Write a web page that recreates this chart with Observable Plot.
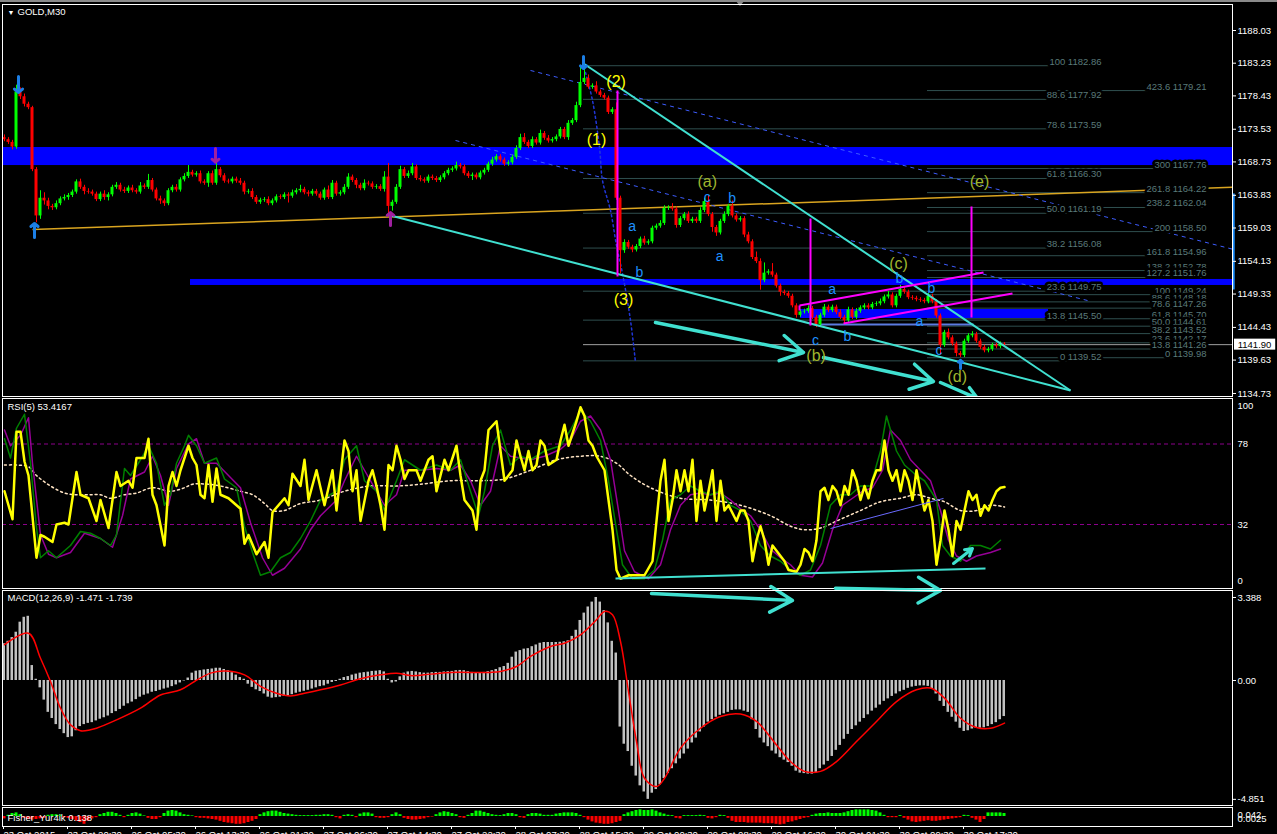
<!DOCTYPE html>
<html>
<head>
<meta charset="utf-8">
<script src="https://cdn.jsdelivr.net/npm/d3@7"></script>
<script src="https://cdn.jsdelivr.net/npm/@observablehq/plot@0.6"></script>
<style>
  html, body { margin: 0; padding: 0; background: #000; overflow: hidden; }
  #chart { position: relative; width: 1277px; height: 834px; background: #000; }
  #chart svg { position: absolute; left: 0; top: 0; }
  #topbar { position: absolute; left: 0; top: 0; width: 1277px; height: 2px; background: #8a8a8a; }
  #shift { position: absolute; left: 735px; top: 0; width: 0; height: 0;
           border-left: 5px solid transparent; border-right: 5px solid transparent; border-top: 6px solid #8a8a8a; }
</style>
</head>
<body>
<div id="chart"><div id="topbar"></div><div id="shift"></div></div>
<script>
// ---------------- GOLD M30 price bars (bar index 0..250) ----------------
const firstOpen = 1172.3;
const closes = [
  1172.0,1171.6,1170.9,1179.0,1178.3,1177.2,1176.7,1167.6,1160.8,1163.4,
  1163.0,1162.2,1162.0,1162.6,1163.3,1163.5,1163.8,1164.3,1165.8,1165.0,
  1164.4,1164.3,1164.0,1163.2,1164.0,1163.5,1163.9,1165.0,1165.3,1164.6,
  1164.4,1164.9,1164.5,1164.3,1165.2,1165.0,1166.0,1164.6,1163.3,1163.0,
  1162.6,1164.5,1165.0,1164.6,1166.1,1166.6,1167.2,1166.8,1167.0,1165.8,
  1165.6,1167.0,1165.6,1167.6,1166.7,1165.9,1165.8,1166.2,1165.9,1165.6,
  1164.3,1164.4,1163.5,1162.8,1163.1,1163.2,1162.6,1163.0,1163.6,1163.5,
  1163.9,1163.7,1164.2,1164.5,1164.7,1164.2,1164.0,1164.4,1164.0,1163.4,
  1164.6,1163.5,1165.6,1164.0,1164.2,1165.0,1166.5,1166.0,1165.3,1164.8,
  1165.6,1165.5,1165.0,1165.1,1164.7,1166.5,1162.2,1162.8,1165.0,1167.6,
  1166.6,1167.0,1168.0,1166.3,1166.1,1165.9,1166.5,1166.3,1166.0,1166.4,
  1167.0,1167.5,1167.7,1168.2,1168.0,1167.0,1166.6,1166.8,1166.4,1167.1,
  1167.5,1168.4,1169.0,1169.5,1169.0,1168.4,1168.6,1169.4,1170.7,1172.3,
  1171.6,1171.0,1172.0,1171.5,1172.9,1172.2,1171.8,1172.0,1172.4,1173.5,
  1172.3,1174.4,1174.8,1177.0,1180.4,1181.0,1179.7,1179.9,1179.0,1178.5,
  1178.1,1176.0,1176.4,1163.4,1155.7,1156.9,1156.2,1155.8,1156.3,1157.4,
  1156.8,1157.0,1159.0,1159.3,1159.7,1161.9,1162.0,1161.8,1159.4,1160.4,
  1161.0,1160.0,1160.3,1160.0,1161.6,1162.9,1161.0,1159.1,1158.3,1160.0,
  1161.0,1162.2,1160.8,1160.2,1160.4,1158.0,1157.0,1154.7,1154.1,1151.3,
  1152.4,1152.6,1152.1,1150.5,1149.6,1149.4,1149.0,1147.6,1146.2,1146.7,
  1146.8,1147.2,1145.9,1144.8,1146.2,1147.4,1146.9,1147.4,1146.6,1145.9,
  1145.4,1147.0,1145.9,1146.8,1147.3,1147.6,1147.3,1147.8,1147.9,1148.2,
  1148.9,1149.2,1147.6,1149.0,1150.0,1149.6,1148.8,1148.7,1148.5,1148.4,
  1148.2,1149.0,1148.2,1146.1,1141.8,1143.7,1142.9,1142.0,1140.6,1140.3,
  1142.4,1143.2,1143.4,1142.4,1141.5,1141.0,1141.2,1141.8,1141.6,1142.0,
  1141.9
];
// shadow lengths above / below each body, in dollars
const wickUp = [
  0.4,0.3,0.3,1.0,0.6,0.4,0.3,0.2,0.3,1.1, 0.8,0.4,0.3,0.4,0.3,0.4,0.3,0.3,0.3,0.4,
  0.3,0.4,0.3,0.3,0.3,0.5,0.3,0.3,0.4,0.3, 0.4,0.3,0.4,0.3,0.5,0.3,0.9,0.3,0.3,0.4,
  0.3,0.3,0.3,0.4,0.3,0.4,1.0,0.3,0.3,0.4, 0.3,0.3,0.4,0.9,0.3,0.3,0.3,0.3,0.3,0.4,
  0.3,0.3,0.4,0.3,0.3,0.3,0.4,0.3,0.3,0.3, 0.3,0.3,0.4,0.3,0.6,0.3,0.3,0.3,0.3,0.3,
  0.3,0.6,0.4,0.3,0.3,0.4,0.5,0.3,0.3,0.3, 0.5,0.3,0.3,0.3,0.3,0.8,2.0,0.3,0.4,0.5,
  0.3,0.4,0.5,0.3,0.4,0.3,0.3,0.3,0.3,0.3, 0.3,0.3,0.3,0.5,0.3,0.3,0.3,0.3,0.3,0.3,
  0.3,0.3,0.4,0.3,0.3,0.3,0.3,0.3,0.4,0.5, 0.6,0.3,0.4,0.3,0.5,0.3,0.4,0.3,0.3,0.3,
  0.3,0.4,0.3,0.5,2.2,1.9,0.5,0.3,0.6,0.3, 0.3,0.3,0.3,1.0,0.3,0.4,0.3,0.3,0.3,0.3,
  0.4,0.3,0.3,0.3,0.4,0.4,0.3,0.6,0.3,0.3, 0.3,0.4,0.3,0.3,0.4,0.5,0.8,0.3,0.3,0.3,
  0.4,0.3,0.8,0.3,0.3,0.3,0.4,0.3,0.8,0.4, 1.5,0.3,1.2,0.3,0.3,0.3,0.3,0.3,0.3,0.3,
  0.3,0.4,0.3,0.3,0.3,0.4,0.3,0.3,0.3,0.4, 0.3,0.4,0.3,0.4,0.3,0.3,0.3,0.3,0.3,0.4,
  0.3,0.5,0.3,0.3,0.6,0.3,0.3,0.3,0.3,0.3, 0.3,0.4,0.3,0.3,0.3,0.3,0.5,0.3,0.3,0.3,
  0.3,0.3,0.4,0.3,0.3,0.3,0.3,0.3,0.3,0.3, 0.2
];
const wickDown = [
  0.3,0.3,0.4,0.3,0.4,0.4,0.3,0.3,1.0,0.5, 0.6,0.5,0.4,0.3,0.3,0.3,0.4,0.3,0.3,0.3,
  0.5,0.3,0.3,0.3,0.3,0.4,0.5,0.3,0.3,0.3, 0.3,0.3,0.3,0.3,0.3,0.3,0.3,0.3,0.3,0.5,
  0.4,0.3,0.3,0.3,0.3,0.3,0.3,0.3,0.3,0.3, 0.3,0.6,0.3,0.3,0.3,0.3,0.3,0.3,0.3,0.3,
  0.4,0.3,0.3,0.3,0.3,0.3,0.3,0.3,0.3,0.3, 0.3,1.0,0.3,0.3,0.3,0.3,0.4,0.3,0.3,0.3,
  0.3,0.3,0.3,0.3,0.3,0.3,0.3,0.3,0.5,0.3, 0.3,0.3,0.3,0.3,0.3,0.4,1.3,0.7,0.3,0.3,
  0.3,0.3,0.3,0.3,0.3,0.3,0.3,0.3,0.3,0.3, 0.3,0.3,0.3,0.3,0.3,0.3,0.3,0.6,0.3,0.3,
  0.3,0.3,0.3,0.3,0.3,0.3,0.3,0.3,0.3,0.3, 0.3,0.3,0.3,0.3,0.3,0.3,0.3,0.3,0.3,0.3,
  0.3,0.4,0.3,0.3,0.3,0.3,0.3,0.3,0.3,0.3, 0.3,0.3,0.3,0.3,3.4,0.4,0.3,0.4,0.3,0.3,
  0.3,0.3,0.3,0.3,0.3,0.3,0.3,0.3,0.4,0.3, 0.3,0.3,0.3,0.3,0.3,0.3,0.3,0.7,0.5,0.3,
  0.3,0.3,0.3,0.3,0.3,0.4,0.3,0.3,0.3,1.4, 0.3,0.3,0.3,0.3,0.6,0.3,0.3,0.3,0.4,0.3,
  0.3,0.3,0.3,0.4,0.3,0.3,0.3,0.3,0.3,0.3, 0.4,0.3,0.3,0.3,0.3,0.3,0.3,0.3,0.3,0.3,
  0.3,0.3,0.3,0.3,0.3,0.3,0.3,0.3,0.3,0.3, 0.3,0.3,0.3,0.3,1.5,0.3,0.3,0.3,0.5,0.3,
  0.3,0.3,0.3,0.3,0.3,0.3,0.3,0.3,0.3,0.3, 0.2
];
const bidPrice = 1141.90;
const priceTicks = [1188.03,1183.23,1178.43,1173.53,1168.73,1163.83,1159.03,1154.13,1149.33,1144.43,1139.63,1134.73];

// ---------------- chart objects on the price window (bar index, price) ----------------
const zoneFrom = [-1, 46.5, 199];
const zoneTo   = [307, 307, 261];
const zoneHigh = [1170.85, 1151.47, 1147.06];
const zoneLow  = [1168.20, 1150.59, 1145.74];

const fibAFrom = 144.75, fibATo = 274.25;
const fibALevel = ["100","88.6","78.6","61.8","50.0","38.2","23.6","13.8","0"];
const fibAPrice = [1182.86,1177.92,1173.59,1166.30,1161.19,1156.08,1149.75,1145.50,1139.52];
const fibBFrom = 230.75, fibBTo = 300.5;
const fibBLevel = ["423.6","300","261.8","238.2","200","161.8","138.2","127.2","100","88.6","78.6","61.8","50.0","38.2","23.6","13.8","0"];
const fibBPrice = [1179.21,1167.76,1164.22,1162.04,1158.50,1154.96,1152.78,1151.76,1149.24,1148.18,1147.26,1145.70,1144.61,1143.52,1142.17,1141.26,1139.98];
const bidLineFrom = 144.75, axisEdgeBar = 307;

// segments as [bar1, price1, bar2, price2]
const orangeTrend = [[7, 1158.8, 307, 1165.0]];
const wedge = [[96.5, 1160.86, 266.5, 1135.17], [144.75, 1183.18, 266.5, 1135.17]];
const divergenceArrows = [[162.75, 1145.15, 199.75, 1140.75], [204.75, 1140.01, 232.25, 1136.49], [234, 1136.34, 243.25, 1133.99]];
const channelLines = [[198.75, 1147.65, 244.75, 1152.49], [209.75, 1145.0, 252, 1149.4], [198.75, 1147.65, 198.75, 1146.9]];
const targetLines = [[153.25, 1179.22, 153.25, 1151.91], [201.5, 1160.42, 201.5, 1144.71], [241.75, 1162.19, 241.75, 1145.89]];
const dashedTrends = [[131.5, 1182.16, 307, 1155.92], [112.75, 1171.88, 270.75, 1148.38]];
const baseLine = [[204, 1144.86, 242.25, 1144.86]];
const axisMarker = [[307.3, 1164.1, 307.3, 1150.0]];
const waveCurve = [[145.25,1181.86],[147,1177.75],[148.75,1170.85],[149.5,1166.0],[151.5,1161.6],[153,1156.46],[154.5,1152.35],[156.5,1145.45],[157.75,1139.28]];
const blueSignals = [[3.5, 1181.28, 3.5, 1178.93], [7.5, 1157.63, 7.5, 1159.69], [144.75, 1184.21, 144.75, 1182.45], [239, 1138.4, 239, 1139.6]];
const purpleSignals = [[52.75, 1170.7, 52.75, 1168.7], [96.5, 1159.4, 96.5, 1161.3]];

// wave counts
const impulseText = ["(1)", "(2)", "(3)"];
const impulseBar = [148, 152.9, 154.75];
const impulsePrice = [1171.9, 1180.44, 1148.53];
const triangleText = ["(a)", "(b)", "(c)", "(d)", "(e)"];
const triangleBar = [175.7, 202.9, 223.5, 238.2, 243.75];
const trianglePrice = [1165.87, 1140.3, 1153.8, 1137.13, 1165.75];
const subText = ["a", "b", "c", "b", "a", "a", "c", "b", "b", "b", "a", "c"];
const subBar = [156.9, 158.75, 175.7, 181.9, 178.8, 206.9, 202.75, 210.7, 223.75, 231.75, 228.75, 233.6];
const subPrice = [1159.28, 1152.49, 1163.55, 1163.36, 1154.84, 1149.95, 1142.53, 1143.06, 1151.62, 1150.09, 1145.35, 1141.04];

// ---------------- RSI(5) window ----------------
const rsiValue = "53.4167";
const rsi5 = [[0,51],[2,35],[3,85],[4,85],[5,68],[6,60],[8,13],[9,26],[10,25],[12,22],[13,32],[15,33],[16,32],[18,62],[19,49],[21,47],[23,34],[24,46],[26,30],[28,62],[29,54],[31,57],[32,53],[33,70],[35,70],[36,81],[37,49],[38,43],[40,20],[41,54],[42,62],[43,54],[44,63],[46,77],[47,70],[48,66],[49,49],[50,47],[51,66],[52,45],[53,64],[54,49],[56,47],[59,41],[60,21],[61,26],[63,15],[65,22],[66,13],[67,39],[70,47],[71,43],[72,61],[74,54],[75,69],[76,46],[78,63],[80,43],[82,63],[83,40],[85,80],[86,74],[87,51],[88,63],[89,34],[91,57],[92,63],[93,54],[94,43],[95,29],[96,66],[97,63],[98,77],[99,69],[100,58],[101,63],[103,63],[104,57],[106,69],[107,71],[108,51],[110,69],[111,63],[113,77],[114,60],[115,46],[117,40],[118,29],[119,57],[120,63],[121,86],[123,91],[124,74],[125,57],[126,60],[127,63],[128,80],[129,71],[130,63],[131,74],[132,63],[133,66],[134,80],[135,77],[136,66],[138,69],[139,80],[140,89],[141,77],[143,91],[144,99],[145,94],[146,80],[147,77],[148,71],[150,63],[151,46],[152,29],[153,6],[154,1],[156,3],[158,3],[160,3],[162,11],[163,34],[164,57],[165,69],[166,34],[167,46],[168,63],[169,51],[170,63],[171,51],[172,69],[173,34],[174,57],[175,40],[176,51],[177,63],[178,34],[179,57],[180,40],[181,43],[183,34],[184,40],[185,40],[186,34],[187,11],[188,23],[189,31],[190,23],[191,9],[192,20],[193,17],[194,14],[195,11],[196,6],[198,5],[199,9],[200,18],[201,16],[202,11],[203,23],[204,51],[205,53],[206,46],[207,54],[208,51],[209,43],[210,54],[211,49],[212,63],[213,57],[214,46],[215,54],[216,47],[217,57],[218,63],[219,63],[220,80],[221,63],[222,57],[223,63],[224,51],[225,63],[226,57],[227,46],[228,63],[229,51],[230,40],[231,46],[232,34],[233,9],[234,23],[235,40],[236,29],[237,14],[238,34],[239,29],[240,40],[241,51],[242,46],[243,49],[244,37],[245,43],[246,40],[247,46],[248,51],[249,53],[250,53.4167]];
const rsiFast = [[0,81],[1.5,70],[3,87],[5,95],[6.5,67],[8,30],[9,13],[11,17],[13,13],[16.5,20],[19,28],[21.5,27],[24,24],[26.5,20],[28,26],[30,64],[31.5,60],[34,69],[36,77],[38,67],[40,43],[41.5,49],[43,67],[45,77],[46,83],[48,77],[50,67],[53,70],[55,58],[58,53],[60,31],[62,16],[64,3],[66.5,5],[69,13],[71.5,16],[74,24],[76.5,34],[79,46],[83,51],[85,69],[88,77],[90,57],[93,51],[95,40],[98,57],[100,69],[104,63],[108,66],[111.5,63],[114,69],[116.5,51],[118.5,37],[120,51],[122,77],[124,86],[126.5,66],[129,71],[131.5,69],[135,74],[139,77],[141.5,86],[144,97],[146.5,91],[149,80],[151,57],[153,29],[154.5,9],[157,1],[160,1],[162.5,6],[164.5,23],[166.5,46],[169,49],[171.5,54],[174,51],[176.5,49],[179,51],[181.5,43],[184,40],[186.5,34],[189,20],[191.5,14],[194,11],[196.5,6],[199,3],[201.5,6],[204,20],[206.5,43],[209,49],[211.5,49],[214,54],[216.5,54],[219,74],[220.5,94],[223,74],[225,66],[228,60],[230,57],[233,46],[234.5,20],[236.5,14],[239,11],[241.5,20],[244,20],[246.5,18],[249,23]];
const rsiSlow = [[0,86],[1.5,77],[4,83],[6,93],[7,67],[9,26],[11,15],[13,13],[16.5,16],[20,27],[24,24],[27,19],[29.5,37],[31.5,58],[35,62],[37,71],[39,60],[41,43],[43,64],[46,78],[48,81],[50,67],[53,67],[56,60],[59,53],[61.5,33],[64.5,13],[67,3],[70,7],[74,18],[76.5,29],[79,37],[83,46],[85,57],[88,71],[90,63],[93,51],[95,43],[98,49],[100,63],[104,63],[108,64],[111.5,63],[114,66],[116.5,57],[119,43],[121.5,51],[124,77],[126.5,71],[129,70],[131.5,69],[135,71],[139,75],[141.5,80],[144,91],[146.5,94],[149,86],[151.5,69],[153.5,40],[155,17],[157.5,5],[161,1],[164,9],[166.5,29],[169,43],[171.5,49],[174,50],[176.5,49],[179,50],[181.5,46],[184,41],[186.5,37],[189,29],[191.5,18],[194,13],[196.5,9],[199,3],[202,2],[204.5,10],[207,29],[209.5,43],[212,47],[214.5,51],[217,53],[219.5,63],[221.5,86],[224,80],[226.5,69],[229,63],[231.5,57],[234,40],[236,23],[238,14],[240.5,11],[243,14],[246.5,16],[249,18]];
const rsiTrend = [[0,66],[3,66],[6,65],[8,60],[11.5,54],[15,50],[18,49],[21.5,49],[24,49],[26.5,47],[30,49],[33,50],[37,53],[41.5,51],[45,53],[47,55],[51,55],[54,54],[59,51],[62,49],[65,44],[67,40],[70,40],[72,42],[74,44],[79,46],[85,51],[91.5,54],[98,54],[104,55],[111.5,57],[119,57],[125,58],[131.5,63],[138,69],[144,71],[149,71],[153,67],[156.5,60],[161.5,53],[169,47],[176.5,46],[184,43],[191.5,37],[196.5,31],[200,29],[204,30],[209,35],[214,40],[219,45],[224,47],[228,49],[231.5,47],[235,45],[239,40],[243,40],[246.5,43],[250,42]];
const rsiLevels = [78, 32];
const rsiTicks = [100, 78, 32, 0];
const rsiSupport = [[152.75, 1.14, 245.25, 6.86]];
const rsiUpArrow = [[237.25, 9.7, 242, 18.3]];
const rsiTrendline = [[206.5, 29.7, 234.75, 46.9]];

// ---------------- MACD(12,26,9) window ----------------
const macdLabel = "MACD(12,26,9) -1.471 -1.739";
const macdMain = [
  1.5,1.6,1.75,1.97,2.38,2.58,2.62,0.61,0.05,-0.3,
  -0.8,-1.3,-1.55,-1.8,-2.0,-2.17,-2.33,-2.3,-2.05,-1.88,
  -1.8,-1.75,-1.72,-1.65,-1.58,-1.52,-1.45,-1.35,-1.27,-1.18,
  -1.05,-0.95,-0.88,-0.78,-0.68,-0.6,-0.55,-0.48,-0.45,-0.4,
  -0.35,-0.31,-0.25,-0.18,-0.1,-0.02,0.1,0.3,0.38,0.4,
  0.43,0.45,0.47,0.5,0.5,0.45,0.4,0.32,0.22,0.12,
  0.05,-0.15,-0.28,-0.38,-0.45,-0.55,-0.68,-0.72,-0.7,-0.68,
  -0.65,-0.62,-0.58,-0.52,-0.48,-0.44,-0.4,-0.35,-0.3,-0.25,
  -0.22,-0.15,-0.08,-0.04,0.05,0.12,0.16,0.22,0.26,0.3,
  0.32,0.34,0.37,0.38,0.4,0.35,0.05,-0.1,-0.06,0.15,
  0.3,0.35,0.37,0.35,0.32,0.3,0.3,0.32,0.33,0.33,
  0.35,0.36,0.37,0.4,0.41,0.4,0.36,0.33,0.3,0.32,
  0.33,0.36,0.4,0.45,0.52,0.57,0.7,0.95,1.16,1.22,
  1.28,1.3,1.38,1.45,1.52,1.55,1.55,1.55,1.55,1.56,
  1.58,1.62,1.8,2.05,2.45,2.75,3.0,3.2,3.388,3.2,
  2.85,2.35,1.6,1.12,-1.9,-2.6,-2.9,-3.5,-3.9,-4.3,
  -4.55,-4.851,-4.6,-4.45,-4.26,-4.0,-3.8,-3.6,-3.4,-3.2,
  -3.0,-2.8,-2.55,-2.35,-2.1,-1.9,-1.7,-1.6,-1.5,-1.42,
  -1.36,-1.3,-1.22,-1.2,-1.2,-1.25,-1.3,-1.6,-2.0,-2.35,
  -2.55,-2.7,-2.88,-3.0,-3.15,-3.25,-3.35,-3.5,-3.7,-3.78,
  -3.8,-3.82,-3.82,-3.75,-3.6,-3.45,-3.3,-3.1,-2.85,-2.65,
  -2.4,-2.2,-2.0,-1.85,-1.7,-1.55,-1.4,-1.25,-1.13,-1.0,
  -0.85,-0.75,-0.65,-0.55,-0.46,-0.4,-0.32,-0.27,-0.24,-0.22,
  -0.22,-0.24,-0.35,-0.55,-0.85,-1.06,-1.3,-1.5,-1.7,-1.95,
  -2.08,-2.05,-1.98,-1.95,-1.95,-1.93,-1.88,-1.8,-1.72,-1.6,
  -1.471
];
const macdSignal = [[0,1.46],[6,1.93],[9,0.91],[11.5,-0.04],[14,-1.13],[16.5,-1.81],[19,-2.05],[21.5,-2.01],[23,-1.95],[28,-1.61],[34,-1.13],[39,-0.59],[44,-0.38],[47.5,-0.04],[51.5,0.3],[55,0.39],[60,0.23],[64,-0.24],[68,-0.52],[71.5,-0.63],[75,-0.52],[79,-0.38],[84,-0.18],[89,0.07],[94,0.23],[98,0.3],[101.5,0.2],[106.5,0.26],[111.5,0.33],[121.5,0.33],[124,0.37],[128,0.57],[131.5,0.98],[136.5,1.39],[140,1.52],[144,1.86],[148,2.48],[150,2.82],[152,2.68],[154,1.59],[156,-0.45],[158,-2.49],[160,-3.99],[163,-4.33],[165,-3.99],[169,-2.76],[174,-1.95],[179,-1.47],[184,-1.37],[188,-1.67],[193,-2.63],[196.5,-3.31],[200,-3.71],[204,-3.71],[208,-3.31],[213,-2.49],[218,-1.67],[223,-0.86],[228,-0.38],[231.5,-0.31],[235,-0.72],[239,-1.54],[243,-1.92],[246.5,-1.95],[250,-1.739]];
const macdTicks = [3.388, 0, -4.851];
const macdArrows = [[161.75, 3.55, 197, 3.27], [207.75, 3.76, 234, 3.67]];

// ---------------- Fisher_Yur4ik window ----------------
const fisherLabel = "Fisher_Yur4ik 0.138";
const fisherScaleText = ["0.042", "0.0025"];
const fisher = [
  -0.4,0.2,0.5,0.6,0.3,-0.3,-0.5,-0.6,-0.5,-0.4,
  -0.3,0.2,0.3,0.3,0.2,-0.2,-0.3,-0.5,-0.8,-1.0,
  -1.3,-0.8,-0.4,-0.2,0.3,0.5,0.7,0.7,0.5,0.2,
  -0.2,0.2,0.5,0.6,0.4,0.1,-0.3,-0.5,-0.5,-0.2,
  0.5,0.9,1.0,0.9,0.6,0.3,0.2,0.1,-0.2,-0.3,
  -0.3,-0.4,-0.5,-0.6,-0.8,-1.0,-1.1,-1.2,-1.3,-1.3,
  -1.2,-1.0,-0.8,-0.5,0.3,0.6,0.8,0.9,0.9,0.7,
  0.5,0.4,0.3,0.2,0.15,0.15,0.15,0.15,0.2,0.2,
  0.3,0.3,0.2,-0.2,-0.4,0.2,0.3,0.2,-0.2,0.4,
  0.6,0.6,0.4,-0.2,-0.3,-0.3,-0.2,0.3,0.6,0.3,
  -0.3,-0.5,-0.6,-0.6,-0.5,-0.4,-0.2,-0.1,0.3,0.6,
  0.8,0.7,0.5,0.3,-0.2,-0.3,0.2,0.5,0.9,0.9,
  0.7,0.5,0.3,0.2,0.15,0.3,0.5,0.5,0.3,-0.2,
  -0.3,0.3,0.5,0.5,0.4,0.2,0.2,0.2,0.4,0.5,
  0.6,0.6,0.6,0.5,0.2,-0.2,-0.6,-0.9,-1.1,-1.2,
  -1.3,-1.3,-1.2,-1.0,-0.8,0.3,0.6,0.8,1.0,1.1,
  1.0,1.0,1.1,0.9,0.6,0.4,0.2,0.15,-0.3,-0.4,
  0.15,0.15,0.15,0.15,0.2,0.15,-0.3,-0.4,-0.2,0.2,
  0.15,-0.3,-0.8,-1.0,-1.0,-1.0,-1.1,-1.1,-1.1,-1.1,
  -1.2,-1.2,-1.2,-1.3,-1.4,-1.3,-1.0,-0.9,-0.7,-0.5,
  -0.3,-0.2,0.2,0.4,0.5,0.5,0.6,0.5,0.5,0.5,
  0.6,0.8,1.0,1.1,1.1,1.1,1.1,1.0,0.9,0.6,
  0.2,-0.2,-0.2,-0.2,0.15,-0.3,-0.6,-0.9,-1.0,-0.9,
  -0.8,-0.7,-0.8,-0.8,-0.7,-0.6,-0.5,-0.4,-0.3,-0.2,
  0.2,0.15,-0.3,-0.6,-1.0,-0.5,0.6,0.6,0.6,0.6,
  0.5
];

// ---------------- time axis ----------------
const timeTicks = [0,16,32,48,64,80,96,112,128,144,160,176,192,208,224,240];
const timeLabels = ["23 Oct 2015","23 Oct 20:30","26 Oct 05:30","26 Oct 13:30","26 Oct 21:30","27 Oct 06:30","27 Oct 14:30","27 Oct 22:30","28 Oct 07:30","28 Oct 15:30","29 Oct 00:30","29 Oct 08:30","29 Oct 16:30","30 Oct 01:30","30 Oct 09:30","30 Oct 17:30"];

// ======================================================================
const W = 1277, H = 834;
const FONT = "'Liberation Sans', Arial, sans-serif";
const chart = document.getElementById("chart");
const seg = s => ({x1: s[0], y1: s[1], x2: s[2], y2: s[3]});

// every window shares the bar axis and is stacked on the same page-sized canvas
function addWindow(top, bottom, yScale, marks) {
  const svg = Plot.plot({
    width: W, height: H,
    marginLeft: 2, marginRight: 45, marginTop: top, marginBottom: H - bottom,
    x: {domain: [0, 250], range: [4, 1004], axis: null},
    y: {...yScale, axis: null},
    color: {type: "identity"},
    style: {background: "transparent", color: "#ffffff", fontFamily: FONT, fontSize: "9.5px", overflow: "visible"},
    marks: [...marks, Plot.frame({stroke: "#ffffff"})]
  });
  chart.appendChild(svg);
}

const bars = closes.map((c, i) => {
  const o = i === 0 ? firstOpen : closes[i - 1];
  return {i, o, c, h: Math.max(o, c) + wickUp[i], l: Math.min(o, c) - wickDown[i], bull: c >= o};
});
const zones = zoneFrom.map((f, k) => ({x1: f, x2: zoneTo[k], y1: zoneLow[k], y2: zoneHigh[k]}));
const fibA = fibAPrice.map((p, k) => ({p, t: `${fibALevel[k]} ${p.toFixed(2)}`}));
const fibB = fibBPrice.map((p, k) => ({p, t: `${fibBLevel[k]} ${p.toFixed(2)}`}));
const labelsOf = (t, b, p) => t.map((s, k) => ({s, x: b[k], y: p[k]}));
const fibColor = "#2f4f4f", fibText = "#5a7a7a";
const CYAN = "#40e0d0", MAGENTA = "#ff00ff";

// ---------------- price window ----------------
addWindow(4, 396, {domain: [1134.285, 1191.848], range: [396, 4]}, [
  Plot.rect(zones, {x1: "x1", x2: "x2", y1: "y1", y2: "y2", fill: "#0000ff", clip: true}),
  Plot.ruleY(fibA, {y: "p", x1: () => fibAFrom, x2: () => fibATo, stroke: fibColor, clip: true}),
  Plot.ruleY(fibB, {y: "p", x1: () => fibBFrom, x2: () => fibBTo, stroke: fibColor, clip: true}),
  Plot.ruleY([bidPrice], {y: d => d, x1: () => bidLineFrom, x2: () => axisEdgeBar, stroke: "#a0a0a0", clip: true}),
  Plot.link(orangeTrend.map(seg), {x1: "x1", y1: "y1", x2: "x2", y2: "y2", stroke: "#daa520", strokeWidth: 1.5, clip: true}),
  Plot.link(dashedTrends.map(seg), {x1: "x1", y1: "y1", x2: "x2", y2: "y2", stroke: "#3d5cff", strokeDasharray: "4,4", clip: true}),
  Plot.line(waveCurve, {x: d => d[0], y: d => d[1], stroke: "#2036d8", strokeWidth: 1.5, strokeDasharray: "2,3", curve: "catmull-rom", clip: true}),
  Plot.link(baseLine.map(seg), {x1: "x1", y1: "y1", x2: "x2", y2: "y2", stroke: "#5b7be0", strokeWidth: 2, clip: true}),
  Plot.ruleX(bars, {x: "i", y1: "l", y2: "h", stroke: d => d.bull ? "#00ff00" : "#ff0000", clip: true}),
  Plot.rect(bars, {x1: d => d.i - 0.5, x2: d => d.i + 0.5, y1: "o", y2: d => d.c === d.o ? d.c + 0.15 : d.c,
                   insetLeft: 0.5, insetRight: 0.5, fill: d => d.bull ? "#00ff00" : "#ff0000", clip: true}),
  Plot.link(wedge.map(seg), {x1: "x1", y1: "y1", x2: "x2", y2: "y2", stroke: CYAN, strokeWidth: 2, clip: true}),
  Plot.arrow(divergenceArrows.map(seg), {x1: "x1", y1: "y1", x2: "x2", y2: "y2", stroke: CYAN, strokeWidth: 3.5, headLength: 11, clip: true}),
  Plot.link(targetLines.map(seg), {x1: "x1", y1: "y1", x2: "x2", y2: "y2", stroke: MAGENTA, strokeWidth: 2, clip: true}),
  Plot.link(channelLines.map(seg), {x1: "x1", y1: "y1", x2: "x2", y2: "y2", stroke: MAGENTA, strokeWidth: 2, clip: true}),
  Plot.arrow(blueSignals.map(seg), {x1: "x1", y1: "y1", x2: "x2", y2: "y2", stroke: "#1c7fe6", strokeWidth: 3, headLength: 6, headAngle: 100, clip: true}),
  Plot.arrow(purpleSignals.map(seg), {x1: "x1", y1: "y1", x2: "x2", y2: "y2", stroke: "#a020a0", strokeWidth: 3, headLength: 6, headAngle: 100, clip: true}),
  Plot.text(fibA, {x: () => fibATo, y: "p", text: "t", textAnchor: "end", lineAnchor: "bottom", dy: -1,
                   fill: fibText, stroke: "#000000", strokeWidth: 5, paintOrder: "stroke", clip: true}),
  Plot.text(fibB, {x: () => fibBTo, y: "p", text: "t", textAnchor: "end", lineAnchor: "bottom", dy: -1,
                   fill: fibText, stroke: "#000000", strokeWidth: 5, paintOrder: "stroke", clip: true}),
  Plot.text(labelsOf(impulseText, impulseBar, impulsePrice), {x: "x", y: "y", text: "s", fill: "#ffff00", fontSize: 16}),
  Plot.text(labelsOf(triangleText, triangleBar, trianglePrice), {x: "x", y: "y", text: "s", fill: "#9fb52e", fontSize: 16}),
  Plot.text(labelsOf(subText, subBar, subPrice), {x: "x", y: "y", text: "s", fill: "#1e90ff", fontSize: 14}),
  Plot.link(axisMarker.map(seg), {x1: "x1", y1: "y1", x2: "x2", y2: "y2", stroke: "#1e90ff", strokeWidth: 2}),
  Plot.axisY(priceTicks, {anchor: "right", tickSize: 3, tickPadding: 2, tickFormat: d => d.toFixed(2), label: null}),
  Plot.rect([bidPrice], {x1: () => 307.5, x2: () => 317.8, y1: d => d, y2: d => d, insetTop: -5.5, insetBottom: -5.5, fill: "#ffffff"}),
  Plot.text([bidPrice], {x: () => 308.3, y: d => d, text: d => d.toFixed(2), textAnchor: "start", fill: "#000000"}),
  Plot.text(["\u25BC"], {frameAnchor: "top-left", dx: 5, dy: 6, fontSize: 7, fill: "#ffffff"}),
  Plot.text(["GOLD,M30"], {frameAnchor: "top-left", dx: 15, dy: 4, fill: "#ffffff"})
]);

// ---------------- RSI window ----------------
addWindow(398, 588, {domain: [-4.571, 104], range: [588, 398]}, [
  Plot.ruleY(rsiLevels, {stroke: "#8b008b", strokeDasharray: "4,3"}),
  Plot.line(rsiTrend, {x: d => d[0], y: d => d[1], stroke: "#ffe4c4", strokeDasharray: "2,3", curve: "catmull-rom", clip: true}),
  Plot.line(rsiSlow, {x: d => d[0], y: d => d[1], stroke: "#960096", clip: true}),
  Plot.line(rsiFast, {x: d => d[0], y: d => d[1], stroke: "#008000", clip: true}),
  Plot.line(rsi5, {x: d => d[0], y: d => d[1], stroke: "#ffff00", strokeWidth: 2.5, clip: true}),
  Plot.link(rsiTrendline.map(seg), {x1: "x1", y1: "y1", x2: "x2", y2: "y2", stroke: "#6a6aff", clip: true}),
  Plot.link(rsiSupport.map(seg), {x1: "x1", y1: "y1", x2: "x2", y2: "y2", stroke: CYAN, strokeWidth: 2, clip: true}),
  Plot.arrow(rsiUpArrow.map(seg), {x1: "x1", y1: "y1", x2: "x2", y2: "y2", stroke: CYAN, strokeWidth: 3, headLength: 8, clip: true}),
  Plot.axisY(rsiTicks, {anchor: "right", tickSize: 0, tickPadding: 5, tickFormat: d => String(d), label: null}),
  Plot.text([`RSI(5) ${rsiValue}`], {frameAnchor: "top-left", dx: 5, dy: 5, fill: "#ffffff"})
]);

// ---------------- MACD window ----------------
const macdBars = macdMain.map((v, i) => ({i, v}));
addWindow(590, 805, {domain: [-5.102, 3.673], range: [805, 590]}, [
  Plot.rect(macdBars, {x1: d => d.i - 0.5, x2: d => d.i + 0.5, y1: () => 0, y2: "v", insetLeft: 0.5, insetRight: 1, fill: "#c0c0c0", clip: true}),
  Plot.line(macdSignal, {x: d => d[0], y: d => d[1], stroke: "#ff0000", curve: "catmull-rom", clip: true}),
  Plot.arrow(macdArrows.map(seg), {x1: "x1", y1: "y1", x2: "x2", y2: "y2", stroke: CYAN, strokeWidth: 3.5, headLength: 11}),
  Plot.axisY(macdTicks, {anchor: "right", tickSize: 3, tickPadding: 2, tickFormat: d => d === 0 ? "0.00" : String(d), label: null}),
  Plot.text([macdLabel], {frameAnchor: "top-left", dx: 5, dy: 4, fill: "#ffffff"})
]);

// ---------------- Fisher window + time axis ----------------
const fisherBars = fisher.map((v, i) => ({i, v}));
addWindow(807, 826, {domain: [-1.5, 1.5], range: [825, 807]}, [
  Plot.rect(fisherBars, {x1: d => d.i - 0.5, x2: d => d.i + 0.5, y1: () => 0, y2: "v", insetLeft: 0.5, insetRight: 0.5,
                         fill: d => d.v >= 0 ? "#00ff00" : "#ff0000", clip: true}),
  Plot.text([fisherLabel], {frameAnchor: "left", dx: 5, dy: 1, fill: "#ffffff"}),
  Plot.text([fisherScaleText[0]], {frameAnchor: "right", dx: 5, dy: -2, textAnchor: "start", fill: "#ffffff"}),
  Plot.text([fisherScaleText[1]], {frameAnchor: "right", dx: 5, dy: 2, textAnchor: "start", fill: "#ffffff"}),
  Plot.axisX(timeTicks, {anchor: "bottom", tickSize: 3, tickPadding: 2, dx: -1, textAnchor: "start",
                         tickFormat: d => timeLabels[timeTicks.indexOf(d)], label: null})
]);
</script>
</body>
</html>
